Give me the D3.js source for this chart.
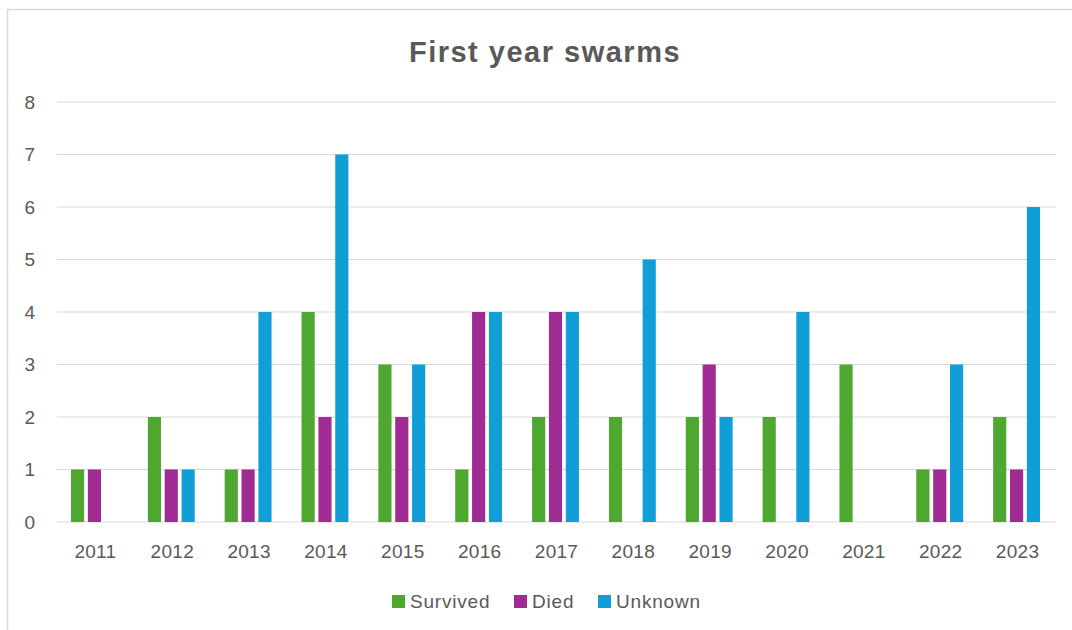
<!DOCTYPE html>
<html>
<head>
<meta charset="utf-8">
<script src="https://cdn.jsdelivr.net/npm/d3@7"></script>
<style>
  body { margin: 0; background: #fff; }
  text { font-family: "Liberation Sans", Arial, sans-serif; fill: #595959; }
</style>
</head>
<body>
<svg id="chart" width="1072" height="630"></svg>
<script>
const years = ["2011","2012","2013","2014","2015","2016","2017","2018","2019","2020","2021","2022","2023"];
const seriesNames = ["Survived", "Died", "Unknown"];
const survived = [1, 2, 1, 4, 3, 1, 2, 2, 2, 2, 3, 1, 2];
const died = [1, 1, 1, 2, 2, 4, 4, 0, 3, 0, 0, 1, 1];
const unknown = [0, 1, 4, 7, 3, 4, 4, 5, 2, 4, 0, 3, 6];
const yTicks = [0, 1, 2, 3, 4, 5, 6, 7, 8];
const colors = ["#4EA72E", "#A02B93", "#0F9ED5"];

const seriesValues = [survived, died, unknown];

const svg = d3.select("#chart");

// chart area border (runs off the right and bottom edges)
svg.append("rect")
    .attr("x", 7.5).attr("y", 9.5)
    .attr("width", 1100).attr("height", 700)
    .attr("fill", "none")
    .attr("stroke", "#d9d9d9")
    .attr("stroke-width", 1.5);

const margin = {top: 102, right: 16, bottom: 108, left: 57};
const width = 1072 - margin.left - margin.right;
const height = 630 - margin.top - margin.bottom;
const g = svg.append("g").attr("transform", `translate(${margin.left},${margin.top})`);

const x = d3.scaleBand().domain(years).range([0, width]).padding(0);
const inner = d3.scaleBand().domain(seriesNames).range([14, x.bandwidth() - 16]).paddingInner(0.22);
const y = d3.scaleLinear().domain([0, 8]).range([height, 0]);

// gridlines
g.append("g")
    .selectAll("line")
    .data(yTicks)
    .enter().append("line")
    .attr("x1", 0).attr("x2", width)
    .attr("y1", d => y(d)).attr("y2", d => y(d))
    .attr("stroke", "#d9d9d9")
    .attr("stroke-width", 1);

// y labels
g.append("g")
    .selectAll("text")
    .data(yTicks)
    .enter().append("text")
    .attr("x", -22)
    .attr("y", d => y(d))
    .attr("dy", "0.36em")
    .attr("text-anchor", "end")
    .style("font-size", "19px")
    .text(d => d);

// x labels
g.append("g")
    .selectAll("text")
    .data(years)
    .enter().append("text")
    .attr("x", d => x(d) + x.bandwidth() / 2)
    .attr("y", height + 36)
    .attr("text-anchor", "middle")
    .style("font-size", "19px")
    .style("letter-spacing", "0.3px")
    .text(d => d);

// bars
seriesNames.forEach((name, index) => {
    g.selectAll(`.bar${index}`)
        .data(years)
        .enter().append("rect")
        .attr("class", `bar bar${index}`)
        .attr("x", d => x(d) + inner(name))
        .attr("y", (d, i) => y(seriesValues[index][i]))
        .attr("width", inner.bandwidth())
        .attr("height", (d, i) => height - y(seriesValues[index][i]))
        .attr("fill", colors[index]);
});

// title
svg.append("text")
    .attr("x", 545)
    .attr("y", 62)
    .attr("text-anchor", "middle")
    .style("font-size", "29px")
    .style("font-weight", "bold")
    .style("letter-spacing", "1.5px")
    .text("First year swarms");

// legend
const legend = svg.append("g").attr("transform", "translate(392,595)");
const legendX = [0, 122, 206];
seriesNames.forEach((name, index) => {
    const row = legend.append("g").attr("transform", `translate(${legendX[index]},0)`);
    row.append("rect")
        .attr("width", 13).attr("height", 13)
        .attr("fill", colors[index]);
    row.append("text")
        .attr("x", 18)
        .attr("y", 13)
        .style("font-size", "19px")
        .style("letter-spacing", "0.8px")
        .text(name);
});
</script>
</body>
</html>
